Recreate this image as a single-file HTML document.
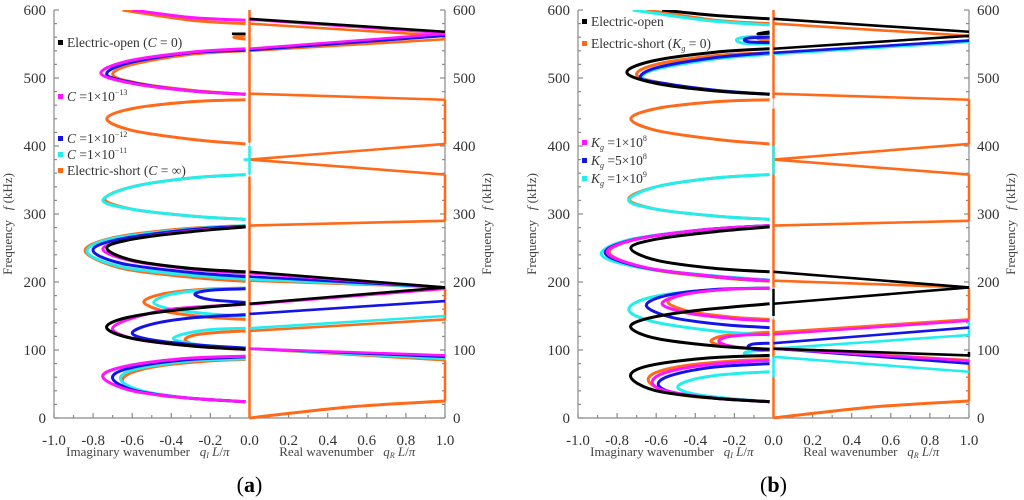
<!DOCTYPE html>
<html><head><meta charset="utf-8">
<style>
html,body{margin:0;padding:0;background:#fff;}
svg{display:block;}
svg text{font-family:"Liberation Serif","DejaVu Serif",serif;}
</style></head>
<body>
<svg id="chart" width="1024" height="500" viewBox="0 0 1024 500" xmlns="http://www.w3.org/2000/svg" font-family="Liberation Serif, serif"></svg>
<script>
// ---------- data (q in units of L/pi, f in kHz); each curve = [q,f,q,f,...] ----------
const yTicks = [0,100,200,300,400,500,600];
const xTicks = ["-1.0","-0.8","-0.6","-0.4","-0.2","0.0","0.2","0.4","0.6","0.8","1.0"];
const xTickValues = [-1,-0.8,-0.6,-0.4,-0.2,0,0.2,0.4,0.6,0.8,1];

const orangeA = [
 [-0.02,24,-0.2,27,-0.45,33,-0.6,43,-0.65,55,-0.6,67,-0.45,77,-0.2,84,-0.02,86],
 [-0.02,101,-0.15,103,-0.28,108,-0.33,115,-0.28,122,-0.15,126,-0.02,128],
 [-0.02,145,-0.2,148,-0.42,156,-0.54,170,-0.45,182,-0.25,189,-0.02,191],
 [-0.02,201,-0.3,207,-0.65,220,-0.84,245,-0.7,265,-0.35,278,-0.02,283],
 [-0.02,292,-0.3,297,-0.6,307,-0.74,322,-0.6,340,-0.3,353,-0.02,358],
 [-0.02,403,-0.3,410,-0.6,423,-0.73,440,-0.6,455,-0.3,465,-0.02,468],
 [-0.02,476,-0.3,482,-0.58,493,-0.7,505,-0.6,520,-0.3,535,-0.02,540],
 [-0.02,580,-0.3,585,-0.65,600],
 [-0.02,557,-0.08,560,-0.02,563],
 [0,0,0.5,16,1,25],[0,102,1,85],[0,128,1,145],[0,202,1,192],[0,283,1,290],
 [0,380,1,403],[0,380,1,358],[0,477,1,468],[0,540,1,557],[0,580,1,562],
 [1,25,1,85],[1,145,1,192],[1,290,1,358],[1,403,1,468],[0,0,0,355],[0,405,0,600]
];
const cyanA = [
 [-0.02,24,-0.3,29,-0.55,40,-0.66,57,-0.58,72,-0.3,84,-0.02,87],
 [-0.02,103,-0.2,106,-0.33,111,-0.39,117,-0.33,124,-0.2,130,-0.02,132],
 [-0.02,150,-0.2,153,-0.4,160,-0.49,170,-0.4,182,-0.2,189,-0.02,191],
 [-0.02,204,-0.3,210,-0.65,222,-0.83,244,-0.7,264,-0.3,278,-0.02,283],
 [-0.02,292,-0.3,297,-0.6,307,-0.75,320,-0.6,340,-0.3,353,-0.02,358],
 [0,132,1,150],[0,102,1,87],[0,204,1,192],[0,358,0,400],[-0.03,380,0,380]
];
const blueA = [
 [-0.02,24,-0.3,29,-0.58,40,-0.7,58,-0.62,73,-0.35,85,-0.02,90],
 [-0.02,103,-0.25,107,-0.5,115,-0.6,125,-0.5,138,-0.3,147,-0.02,152],
 [-0.02,170,-0.2,174,-0.28,182,-0.2,188,-0.02,190],
 [-0.02,208,-0.3,214,-0.65,227,-0.8,246,-0.68,262,-0.3,277,-0.02,282],
 [-0.02,476,-0.3,481,-0.58,492,-0.73,505,-0.62,522,-0.3,537,-0.02,541],
 [0,153,1,172],[0,102,1,90],[0,208,1,192],[0,541,1,562]
];
const magentaA = [
 [-0.02,24,-0.3,29,-0.6,40,-0.75,60,-0.65,75,-0.35,87,-0.02,91],
 [-0.02,101,-0.3,106,-0.58,116,-0.7,130,-0.62,145,-0.4,160,-0.02,167],
 [-0.02,213,-0.3,219,-0.6,231,-0.75,248,-0.62,262,-0.3,275,-0.02,281],
 [-0.02,476,-0.3,481,-0.6,492,-0.76,507,-0.62,525,-0.3,538,-0.02,543],
 [-0.02,585,-0.3,589,-0.6,600],
 [0,167,1,190],[0,213,1,192],[0,102,1,92],[0,543,1,565],[0,586,1,566]
];
const blackA = [
 [-0.02,101,-0.3,106,-0.6,117,-0.73,132,-0.65,146,-0.4,158,-0.02,168],
 [-0.02,215,-0.3,220,-0.6,232,-0.73,250,-0.6,263,-0.3,274,-0.02,281],
 [-0.02,565,-0.09,565],
 [0,168,1,192],[0,215,1,192],[0,587,1,568]
];

const orangeB = [
 [-0.02,24,-0.2,27,-0.45,33,-0.58,43,-0.64,55,-0.6,67,-0.45,77,-0.2,84,-0.02,86],
 [-0.02,101,-0.15,103,-0.27,107,-0.32,113,-0.27,120,-0.15,124,-0.02,126],
 [-0.02,145,-0.2,148,-0.42,156,-0.54,170,-0.45,182,-0.25,189,-0.02,191],
 [-0.02,201,-0.3,207,-0.65,220,-0.84,243,-0.7,263,-0.35,277,-0.02,283],
 [-0.02,292,-0.3,297,-0.6,307,-0.74,322,-0.6,340,-0.3,353,-0.02,358],
 [-0.02,403,-0.3,410,-0.6,423,-0.73,440,-0.6,455,-0.3,465,-0.02,468],
 [-0.02,476,-0.3,482,-0.58,493,-0.7,505,-0.6,520,-0.3,533,-0.02,537],
 [-0.02,580,-0.3,585,-0.65,600],
 [-0.02,555,-0.08,558,-0.02,562],
 [0,0,0.5,16,1,25],[0,102,1,85],[0,126,1,145],[0,202,1,192],[0,283,1,290],
 [0,380,1,403],[0,380,1,358],[0,477,1,468],[0,537,1,555],[0,580,1,562],
 [1,25,1,85],[1,145,1,192],[1,290,1,358],[1,403,1,468],[0,0,0,60],[0,88,0,145],[0,192,0,455],[0,470,0,600]
];
const blackB = [
 [-0.02,24,-0.3,29,-0.6,40,-0.73,60,-0.65,76,-0.35,88,-0.02,92],
 [-0.02,101,-0.3,106,-0.6,117,-0.73,133,-0.65,146,-0.4,158,-0.02,168],
 [-0.02,215,-0.3,220,-0.6,232,-0.73,250,-0.6,263,-0.3,274,-0.02,281],
 [-0.02,476,-0.3,481,-0.6,492,-0.75,508,-0.62,525,-0.3,538,-0.02,543],
 [-0.02,587,-0.3,592,-0.57,600],
 [-0.02,566,-0.08,565,-0.02,568],
 [0,102,1,92],[0,168,1,192],[0,215,1,192],[0,543,1,562],[0,587,1,568],[0,150,0,190],[1,90,1,97]
];
const magentaB = [
 [-0.02,24,-0.3,29,-0.55,40,-0.62,52,-0.56,66,-0.35,78,-0.02,85],
 [-0.02,101,-0.15,103,-0.24,107,-0.28,113,-0.24,119,-0.15,122,-0.02,123],
 [-0.02,143,-0.2,146,-0.45,155,-0.57,168,-0.47,181,-0.25,189,-0.02,191],
 [-0.02,202,-0.3,208,-0.65,221,-0.85,243,-0.7,263,-0.35,277,-0.02,283],
 [0,123,1,143],[0,102,1,84]
];
const blueB = [
 [-0.02,24,-0.3,29,-0.52,38,-0.59,50,-0.52,63,-0.3,75,-0.02,80],
 [-0.02,100,-0.1,101,-0.13,105,-0.1,109,-0.02,110],
 [-0.02,133,-0.25,137,-0.52,148,-0.65,165,-0.55,180,-0.3,189,-0.02,191],
 [-0.02,202,-0.3,208,-0.66,221,-0.86,242,-0.72,262,-0.35,277,-0.02,283],
 [-0.02,476,-0.3,482,-0.56,492,-0.68,500,-0.6,515,-0.3,530,-0.02,537],
 [-0.02,552,-0.12,553,-0.15,556,-0.12,559,-0.02,560],
 [0,110,1,133],[0,102,1,80],[0,537,1,555]
];
const cyanB = [
 [-0.02,24,-0.2,28,-0.4,35,-0.49,45,-0.42,56,-0.25,64,-0.02,68],
 [-0.02,90,-0.12,92,-0.15,95,-0.12,98,-0.02,100],
 [-0.02,122,-0.3,128,-0.62,142,-0.74,160,-0.62,178,-0.3,189,-0.02,191],
 [-0.02,203,-0.3,209,-0.68,221,-0.88,240,-0.74,262,-0.35,277,-0.02,283],
 [-0.02,292,-0.3,297,-0.6,307,-0.74,320,-0.6,340,-0.3,353,-0.02,358],
 [-0.02,476,-0.3,482,-0.55,491,-0.67,500,-0.6,513,-0.3,528,-0.02,535],
 [-0.02,550,-0.15,551,-0.19,556,-0.15,560,-0.02,562],
 [-0.02,578,-0.35,585,-0.72,600],
 [0,90,1,68],[0,102,1,122],[0,535,1,553],[0,358,0,400],[0,60,0,90],[1,122,1,142]
];

const COLORS = {orange:"#ff6a1a", cyan:"#22eeee", blue:"#1414e6", magenta:"#ff14ff", black:"#000"};

// ---------- drawing ----------
const NS="http://www.w3.org/2000/svg";
const svg=document.getElementById('chart');
function el(tag, attrs, parent, text){
  const e=document.createElementNS(NS,tag);
  for(const k in attrs) e.setAttribute(k,attrs[k]);
  if(text!==undefined) e.textContent=text;
  (parent||svg).appendChild(e); return e;
}
const Y0=418, Y1=10;
function yScale(f){return Y0-(f/600)*(Y0-Y1);}

function smoothPath(pts){
  if(pts.length===2){return "M"+pts[0][0]+","+pts[0][1]+"L"+pts[1][0]+","+pts[1][1];}
  let d="M"+pts[0][0].toFixed(1)+","+pts[0][1].toFixed(1);
  for(let i=0;i<pts.length-1;i++){
    const p0=pts[i-1]||pts[i], p1=pts[i], p2=pts[i+1], p3=pts[i+2]||p2;
    const c1=[p1[0]+(p2[0]-p0[0])/6, p1[1]+(p2[1]-p0[1])/6];
    const c2=[p2[0]-(p3[0]-p1[0])/6, p2[1]-(p3[1]-p1[1])/6];
    d+="C"+c1[0].toFixed(1)+","+c1[1].toFixed(1)+" "+c2[0].toFixed(1)+","+c2[1].toFixed(1)+" "+p2[0].toFixed(1)+","+p2[1].toFixed(1);
  }
  return d;
}

function panel(id, xL, xR, series, legend, label){
  const g=el('g',{"font-family":"Liberation Serif, serif"});
  
  
  const xC=(xL+xR)/2;
  const xScale=q=>xC+q*(xR-xL)/2;
  const clipId='clip-'+id;
  const cp=el('clipPath',{id:clipId},g);
  el('rect',{x:xL-2,y:Y1,width:xR-xL+4,height:Y0-Y1+2},cp);
  const cl=el('line',{x1:xC,y1:Y1,x2:xC,y2:Y0,stroke:"#c8c8c8","stroke-width":1.5},g);
  
  
  const ax=el('g',{stroke:"#8a8a8a","stroke-width":1.2,fill:"none"},g);
  
  
  el('line',{x1:xL,y1:Y0,x2:xR,y2:Y0},ax);
  el('line',{x1:xL,y1:Y0,x2:xL,y2:Y1},ax);
  el('line',{x1:xR,y1:Y0,x2:xR,y2:Y1},ax);
  for(let f=0; f<=600; f+=20){
    const y=yScale(f), len=(f%100===0)?5:3;
    el('line',{x1:xL,y1:y,x2:xL+len,y2:y},ax);
    el('line',{x1:xR,y1:y,x2:xR-len,y2:y},ax);
  }
  for(let i=-10;i<=10;i++){
    const x=xScale(i/10);
    el('line',{x1:x,y1:Y0,x2:x,y2:Y0-((i%2===0)?5:3)},ax);
  }
  yTicks.forEach(v=>{
    const t=el('text',{x:xL-8,y:yScale(v)+5,"text-anchor":"end","font-size":15,fill:"#333"},g,String(v));
    
    
    const t2=el('text',{x:xR+8,y:yScale(v)+5,"text-anchor":"start","font-size":15,fill:"#333"},g,String(v));
    
    
  });
  xTicks.forEach((s,i)=>{
    const t=el('text',{x:xScale(xTickValues[i]),y:445,"text-anchor":"middle","font-size":15,fill:"#333"},g,s);
    
    
  });
  const ti=el('text',{x:xScale(-0.52),y:456,"text-anchor":"middle","font-size":13,fill:"#444"},g);
  
  
  ti.innerHTML='Imaginary wavenumber&#160;&#160; <tspan font-style="italic">q</tspan><tspan font-style="italic" font-size="8" dy="2">I</tspan><tspan dy="-2"> </tspan><tspan font-style="italic">L</tspan>/<tspan font-style="italic">π</tspan>';
  const tr=el('text',{x:xScale(0.5),y:456,"text-anchor":"middle","font-size":13,fill:"#444"},g);
  
  
  tr.innerHTML='Real wavenumber&#160;&#160; <tspan font-style="italic">q</tspan><tspan font-style="italic" font-size="8" dy="2">R</tspan><tspan dy="-2"> </tspan><tspan font-style="italic">L</tspan>/<tspan font-style="italic">π</tspan>';
  [xL-42,xR+46].forEach((px,i)=>{
    const t=el('text',{x:0,y:0,"text-anchor":"middle","font-size":13,fill:"#444",transform:`translate(${px},${yScale(300)+10}) rotate(-90)`},g);
    
    
    t.innerHTML='Frequency&#160;&#160; <tspan font-style="italic">f</tspan> (kHz)';
  });
  const plot=el('g',{"clip-path":`url(#${clipId})`},g);
  series.forEach(s=>{
    const sg=el('g',{fill:"none",stroke:COLORS[s.color],"stroke-width":3,"stroke-linecap":"butt"},plot);
    
    
    s.data.forEach(c=>{
      const pts=[];
      for(let i=0;i<c.length;i+=2) pts.push([xScale(c[i]),yScale(c[i+1])]);
      const isV = c.length===4 && c[0]===c[2];
      const p=el('path',{d:smoothPath(pts),"stroke-width":isV?2.5:(c.length===4?2.6:3)},sg);
      
      
    });
  });
  legend.forEach(L=>{
    const lg=el('g',{},g);
    
    
    el('rect',{x:xL+4,y:L.y-4,width:5,height:5,fill:COLORS[L.color]},lg);
    const t=el('text',{x:xL+13,y:L.y+3,"font-size":13.5,fill:"#333"},lg);
    t.innerHTML=L.html;
  });
  const pl=el('text',{x:xC,y:492,"text-anchor":"middle","font-size":22,fill:"#000"},g);
  
  
  pl.innerHTML='(<tspan font-weight="bold">'+label+'</tspan>)';
}

panel('panel-a',54,445,[
  {name:'electric-short-series',color:'orange',data:orangeA},
  {name:'c-1e-11-series',color:'cyan',data:cyanA},
  {name:'c-1e-12-series',color:'blue',data:blueA},
  {name:'c-1e-13-series',color:'magenta',data:magentaA},
  {name:'electric-open-series',color:'black',data:blackA}
],[
  {y:44,color:'black',html:'Electric-open (<tspan font-style="italic">C</tspan> = 0)'},
  {y:98,color:'magenta',html:'<tspan font-style="italic">C</tspan> =1×10<tspan font-size="8" dy="-6">−13</tspan>'},
  {y:140,color:'blue',html:'<tspan font-style="italic">C</tspan> =1×10<tspan font-size="8" dy="-6">−12</tspan>'},
  {y:156,color:'cyan',html:'<tspan font-style="italic">C</tspan> =1×10<tspan font-size="8" dy="-6">−11</tspan>'},
  {y:172,color:'orange',html:'Electric-short (<tspan font-style="italic">C</tspan> = ∞)'}
],'a');

panel('panel-b',578,969,[
  {name:'electric-short-series',color:'orange',data:orangeB},
  {name:'kg-1e9-series',color:'cyan',data:cyanB},
  {name:'kg-5e8-series',color:'blue',data:blueB},
  {name:'kg-1e8-series',color:'magenta',data:magentaB},
  {name:'electric-open-series',color:'black',data:blackB}
],[
  {y:23,color:'black',html:'Electric-open'},
  {y:45,color:'orange',html:'Electric-short (<tspan font-style="italic">K</tspan><tspan font-style="italic" font-size="8" dy="3">g</tspan><tspan dy="-3"> = 0)</tspan>'},
  {y:144,color:'magenta',html:'<tspan font-style="italic">K</tspan><tspan font-style="italic" font-size="8" dy="3">g</tspan><tspan dy="-3"> =1×10</tspan><tspan font-size="8" dy="-6">8</tspan>'},
  {y:162,color:'blue',html:'<tspan font-style="italic">K</tspan><tspan font-style="italic" font-size="8" dy="3">g</tspan><tspan dy="-3"> =5×10</tspan><tspan font-size="8" dy="-6">8</tspan>'},
  {y:180,color:'cyan',html:'<tspan font-style="italic">K</tspan><tspan font-style="italic" font-size="8" dy="3">g</tspan><tspan dy="-3"> =1×10</tspan><tspan font-size="8" dy="-6">9</tspan>'}
],'b');
</script>
</body></html>
